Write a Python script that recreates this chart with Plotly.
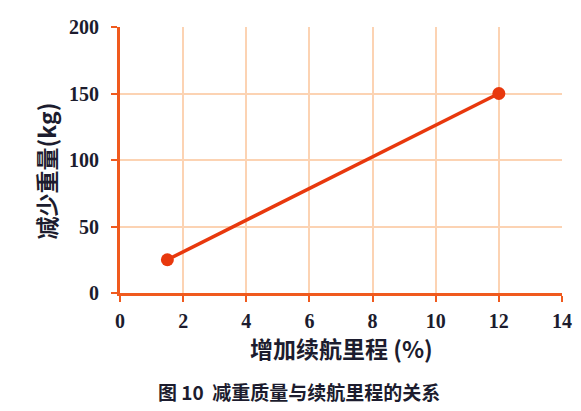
import plotly.graph_objects as go

# Data
range_increase = [1.5, 12]      # 增加续航里程 (%)
weight_reduction = [25, 150]    # 减少重量 (kg)
x_ticks = [0, 2, 4, 6, 8, 10, 12, 14]
y_ticks = [0, 50, 100, 150, 200]

LINE = "#E8380D"
AXIS = "#F05A1E"
GRID = "#FCD3B3"
TXT = "#1c1c2e"
CJK = "Noto Sans CJK SC"
NUM = "Liberation Serif"

fig = go.Figure()
fig.add_trace(go.Scatter(
    x=range_increase, y=weight_reduction, mode="lines+markers",
    line=dict(color=LINE, width=3.5),
    marker=dict(color=LINE, size=13),
    showlegend=False, cliponaxis=False,
))

fig.update_layout(
    width=581, height=411,
    margin=dict(l=120, r=19, t=27, b=118, autoexpand=False),
    paper_bgcolor="white", plot_bgcolor="white",
    xaxis=dict(
        range=[0, 14], tickvals=x_ticks, ticktext=[str(v) for v in x_ticks],
        showgrid=True, gridcolor=GRID, gridwidth=1.5,
        showline=True, linecolor=AXIS, linewidth=3,
        ticks="outside", ticklen=6, tickwidth=2, tickcolor=AXIS,
        tickfont=dict(family=NUM, size=20, color=TXT, weight="bold"),
        ticklabelstandoff=2, zeroline=False, automargin=False,
    ),
    yaxis=dict(
        range=[0, 200], tickvals=y_ticks, ticktext=[str(v) for v in y_ticks],
        showgrid=True, gridcolor=GRID, gridwidth=1.5,
        showline=True, linecolor=AXIS, linewidth=3,
        ticks="outside", ticklen=6, tickwidth=2, tickcolor=AXIS,
        tickfont=dict(family=NUM, size=20, color=TXT, weight="bold"),
        ticklabelstandoff=8, zeroline=False, automargin=False,
    ),
    annotations=[
        dict(text="<b>减少重量(kg)</b>", xref="paper", yref="paper",
             x=-0.168, y=0.46, xanchor="center", yanchor="middle",
             textangle=-90, showarrow=False,
             font=dict(family=CJK, size=23, color=TXT)),
        dict(text="<b>增加续航里程 (%)</b>", xref="paper", yref="paper",
             x=0.5, y=-0.207, xanchor="center", yanchor="middle",
             showarrow=False,
             font=dict(family=CJK, size=23, color=TXT)),
        dict(text="<b>图 10  减重质量与续航里程的关系</b>", xref="paper", yref="paper",
             x=0.405, y=-0.372, xanchor="center", yanchor="middle",
             showarrow=False,
             font=dict(family=CJK, size=19, color=TXT)),
    ],
)

fig.write_html("out.html", config={"displayModeBar": False},
               post_script="document.body.style.margin='0';document.body.style.padding='0';")
